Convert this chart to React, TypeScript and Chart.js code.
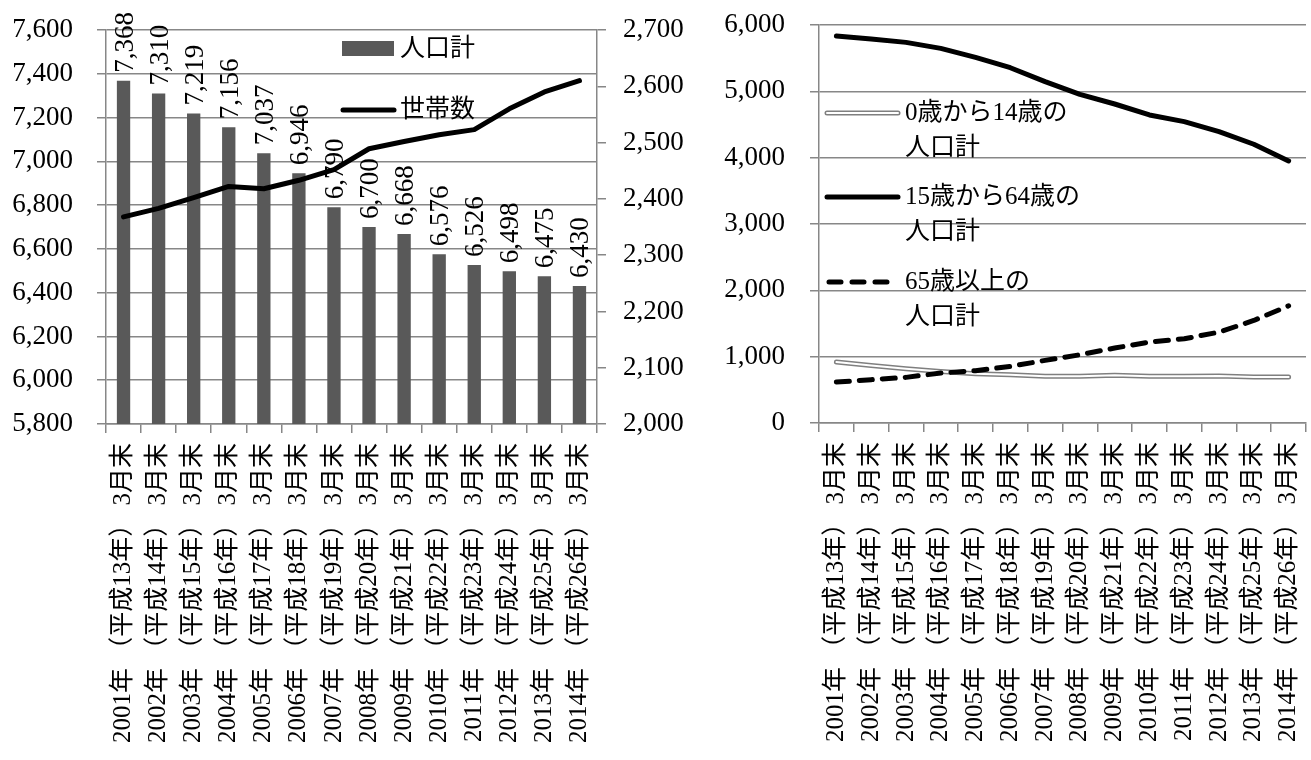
import React, { useEffect, useRef } from "react";
import { Chart, registerables } from "chart.js";

Chart.register(...registerables);

const categories = [
  "2001年 （平成13年） 3月末",
  "2002年 （平成14年） 3月末",
  "2003年 （平成15年） 3月末",
  "2004年 （平成16年） 3月末",
  "2005年 （平成17年） 3月末",
  "2006年 （平成18年） 3月末",
  "2007年 （平成19年） 3月末",
  "2008年 （平成20年） 3月末",
  "2009年 （平成21年） 3月末",
  "2010年 （平成22年） 3月末",
  "2011年 （平成23年） 3月末",
  "2012年 （平成24年） 3月末",
  "2013年 （平成25年） 3月末",
  "2014年 （平成26年） 3月末",
];

const populationTotal = [7368, 7310, 7219, 7156, 7037, 6946, 6790, 6700, 6668, 6576, 6526, 6498, 6475, 6430];
const households = [2368, 2383, 2402, 2422, 2418, 2433, 2452, 2489, 2502, 2514, 2523, 2560, 2590, 2610];

const age0to14 = [919, 868, 818, 778, 743, 728, 703, 703, 718, 703, 703, 708, 693, 693];
const age15to64 = [5833, 5788, 5738, 5648, 5512, 5356, 5146, 4955, 4809, 4644, 4543, 4393, 4202, 3951];
const age65plus = [617, 653, 688, 753, 788, 853, 944, 1029, 1130, 1220, 1270, 1370, 1546, 1767];

const leftTicks = { min: 5800, max: 7600, step: 200 };
const rightTicks = { min: 2000, max: 2700, step: 100 };
const ageTicks = { min: 0, max: 6000, step: 1000 };

const legend1 = ["人口計", "世帯数"];
const legend2 = [
  ["0歳から14歳の", "人口計"],
  ["15歳から64歳の", "人口計"],
  ["65歳以上の", "人口計"],
];

const FONT = "'Liberation Serif', 'Noto Sans CJK JP', serif";
const GRID = "#878787";
const BAR = "#595959";

const fmt = (v: number) => Number(v).toLocaleString("en-US");

const barLabelPlugin = {
  id: "barLabels",
  afterDatasetDraw(chart: any, args: any) {
    const ds = chart.data.datasets[args.index];
    if (ds.type !== "bar") return;
    const ctx = chart.ctx;
    ctx.save();
    ctx.font = `27px ${FONT}`;
    ctx.fillStyle = "#000";
    ctx.textAlign = "left";
    ctx.textBaseline = "alphabetic";
    args.meta.data.forEach((el: any, i: number) => {
      ctx.save();
      ctx.translate(el.x + 9, el.y - 8);
      ctx.rotate(-Math.PI / 2);
      ctx.fillText(fmt(ds.data[i]), 0, 0);
      ctx.restore();
    });
    ctx.restore();
  },
};

const legendPlugin1 = {
  id: "legend1",
  afterDraw(chart: any) {
    const ctx = chart.ctx;
    const a = chart.chartArea;
    const x0 = a.left + 236;
    ctx.save();
    ctx.font = `25px ${FONT}`;
    ctx.textBaseline = "middle";
    ctx.textAlign = "left";
    ctx.fillStyle = BAR;
    ctx.fillRect(x0, a.top + 11, 52, 15);
    ctx.fillStyle = "#000";
    ctx.fillText(legend1[0], x0 + 58, a.top + 19);
    ctx.strokeStyle = "#000";
    ctx.lineWidth = 5;
    ctx.lineCap = "round";
    ctx.beginPath();
    ctx.moveTo(x0 + 1, a.top + 80);
    ctx.lineTo(x0 + 52, a.top + 80);
    ctx.stroke();
    ctx.fillText(legend1[1], x0 + 58, a.top + 80);
    ctx.restore();
  },
};

const legendPlugin2 = {
  id: "legend2",
  afterDraw(chart: any) {
    const ctx = chart.ctx;
    const a = chart.chartArea;
    const x0 = a.left + 8;
    const x1 = x0 + 71;
    const tx = x1 + 7;
    const rows = [a.top + 88, a.top + 172, a.top + 257];
    ctx.save();
    ctx.font = `25px ${FONT}`;
    ctx.textBaseline = "middle";
    ctx.textAlign = "left";
    ctx.lineCap = "round";
    ctx.strokeStyle = "#7f7f7f";
    ctx.lineWidth = 5;
    ctx.beginPath();
    ctx.moveTo(x0, rows[0]);
    ctx.lineTo(x1, rows[0]);
    ctx.stroke();
    ctx.strokeStyle = "#fff";
    ctx.lineWidth = 2;
    ctx.beginPath();
    ctx.moveTo(x0, rows[0]);
    ctx.lineTo(x1, rows[0]);
    ctx.stroke();
    ctx.strokeStyle = "#000";
    ctx.lineWidth = 5;
    ctx.beginPath();
    ctx.moveTo(x0, rows[1]);
    ctx.lineTo(x1, rows[1]);
    ctx.stroke();
    ctx.setLineDash([12, 11]);
    ctx.beginPath();
    ctx.moveTo(x0 + 2, rows[2]);
    ctx.lineTo(x1 - 4, rows[2]);
    ctx.stroke();
    ctx.setLineDash([]);
    ctx.fillStyle = "#000";
    legend2.forEach((lines, i) => {
      ctx.fillText(lines[0], tx, rows[i]);
      ctx.fillText(lines[1], tx, rows[i] + 35);
    });
    ctx.restore();
  },
};

const xScale = (height: number) => ({
  offset: true,
  grid: {
    display: true,
    drawOnChartArea: false,
    drawTicks: true,
    tickLength: 9,
    color: GRID,
    lineWidth: 1.5,
    offset: true,
  },
  border: { color: GRID, width: 1.5 },
  ticks: {
    autoSkip: false,
    minRotation: 90,
    maxRotation: 90,
    padding: 10,
    color: "#000",
    font: { family: FONT, size: 25 },
  },
  afterFit: (s: any) => {
    s.height = height;
    s.paddingLeft = 0;
    s.paddingRight = 0;
  },
});

const yFit = (width: number) => (s: any) => {
  s.width = width;
  s.paddingTop = 0;
  s.paddingBottom = 0;
};

export default function App() {
  const ref1 = useRef<HTMLCanvasElement | null>(null);
  const ref2 = useRef<HTMLCanvasElement | null>(null);

  useEffect(() => {
    const c1 = new Chart(ref1.current as HTMLCanvasElement, {
      type: "bar",
      data: {
        labels: categories,
        datasets: [
          {
            type: "line",
            label: "世帯数",
            data: households,
            yAxisID: "y2",
            borderColor: "#000",
            borderWidth: 5,
            pointRadius: 0,
            tension: 0,
            borderJoinStyle: "round",
            borderCapStyle: "round",
            order: 0,
          } as any,
          {
            type: "bar",
            label: "人口計",
            data: populationTotal,
            yAxisID: "y",
            backgroundColor: BAR,
            barPercentage: 0.38,
            categoryPercentage: 1,
            order: 1,
          } as any,
        ],
      },
      options: {
        responsive: false,
        animation: false,
        layout: { padding: { top: 30, left: 0, right: 0, bottom: 0 } },
        plugins: { legend: { display: false }, tooltip: { enabled: false } },
        scales: {
          x: xScale(336) as any,
          y: {
            position: "left",
            min: leftTicks.min,
            max: leftTicks.max,
            ticks: {
              stepSize: leftTicks.step,
              padding: 24,
              color: "#000",
              font: { family: FONT, size: 27 },
              callback: (v: any) => fmt(v),
            },
            grid: { color: GRID, lineWidth: 1.5, tickLength: 9 },
            border: { color: GRID, width: 1.5 },
            afterFit: yFit(106),
          },
          y2: {
            position: "right",
            min: rightTicks.min,
            max: rightTicks.max,
            ticks: {
              stepSize: rightTicks.step,
              padding: 17,
              color: "#000",
              font: { family: FONT, size: 27 },
              callback: (v: any) => fmt(v),
            },
            grid: { drawOnChartArea: false, color: GRID, lineWidth: 1.5, tickLength: 9 },
            border: { color: GRID, width: 1.5 },
            afterFit: yFit(103),
          },
        },
      },
      plugins: [barLabelPlugin, legendPlugin1],
    });

    const c2 = new Chart(ref2.current as HTMLCanvasElement, {
      type: "line",
      data: {
        labels: categories,
        datasets: [
          {
            label: "0歳から14歳の人口計",
            data: age0to14,
            borderColor: "#7f7f7f",
            borderWidth: 5,
            pointRadius: 0,
            tension: 0,
            borderJoinStyle: "round",
            borderCapStyle: "round",
            order: 3,
          },
          {
            label: "0歳から14歳の人口計 (inner)",
            data: age0to14,
            borderColor: "#ffffff",
            borderWidth: 2,
            pointRadius: 0,
            tension: 0,
            borderJoinStyle: "round",
            borderCapStyle: "round",
            order: 2,
          },
          {
            label: "15歳から64歳の人口計",
            data: age15to64,
            borderColor: "#000",
            borderWidth: 5,
            pointRadius: 0,
            tension: 0,
            borderJoinStyle: "round",
            borderCapStyle: "round",
            order: 1,
          },
          {
            label: "65歳以上の人口計",
            data: age65plus,
            borderColor: "#000",
            borderWidth: 5,
            borderDash: [13, 10],
            pointRadius: 0,
            tension: 0,
            borderJoinStyle: "round",
            borderCapStyle: "round",
            order: 0,
          },
        ] as any,
      },
      options: {
        responsive: false,
        animation: false,
        layout: { padding: { top: 25, left: 0, right: 5, bottom: 0 } },
        plugins: { legend: { display: false }, tooltip: { enabled: false } },
        scales: {
          x: xScale(337) as any,
          y: {
            position: "left",
            min: ageTicks.min,
            max: ageTicks.max,
            ticks: {
              stepSize: ageTicks.step,
              padding: 25,
              color: "#000",
              font: { family: FONT, size: 27 },
              callback: (v: any) => fmt(v),
            },
            grid: { color: GRID, lineWidth: 1.5, tickLength: 9 },
            border: { color: GRID, width: 1.5 },
            afterFit: yFit(119),
          },
        },
      },
      plugins: [legendPlugin2],
    });

    return () => {
      c1.destroy();
      c2.destroy();
    };
  }, []);

  return (
    <div style={{ position: "absolute", left: 0, top: 0, width: 1311, height: 760, background: "#fff", overflow: "hidden" }}>
      <canvas ref={ref1} width={700} height={760} style={{ position: "absolute", left: 0, top: 0, width: 700, height: 760 }} />
      <canvas ref={ref2} width={611} height={760} style={{ position: "absolute", left: 700, top: 0, width: 611, height: 760 }} />
    </div>
  );
}
